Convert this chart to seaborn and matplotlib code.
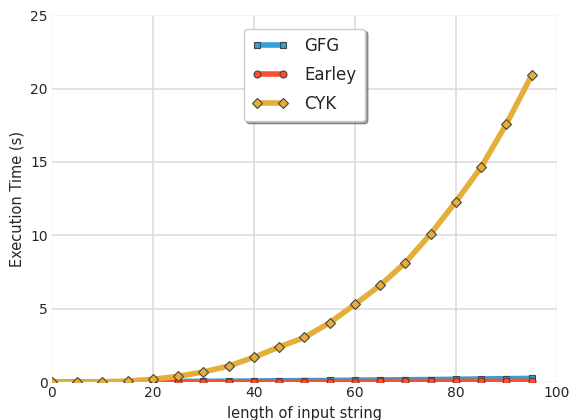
import matplotlib
matplotlib.use("Agg")
import matplotlib.pyplot as plt
import seaborn as sns
import pandas as pd

lengths = [0, 5, 10, 15, 20, 25, 30, 35, 40, 45, 50, 55, 60, 65, 70, 75, 80, 85, 90, 95]
gfg = [0.0, 0.01, 0.02, 0.03, 0.04, 0.05, 0.06, 0.07, 0.08, 0.1, 0.11, 0.12, 0.14, 0.15, 0.17, 0.18, 0.2, 0.22, 0.24, 0.26]
earley = [0.0, 0.0, 0.01, 0.01, 0.02, 0.02, 0.02, 0.03, 0.03, 0.03, 0.04, 0.04, 0.04, 0.05, 0.05, 0.05, 0.06, 0.06, 0.06, 0.07]
cyk = [0.0, 0.005, 0.03, 0.08, 0.2, 0.4, 0.7, 1.1, 1.7, 2.4, 3.05, 4.05, 5.3, 6.6, 8.15, 10.1, 12.3, 14.65, 17.6, 20.9]
series = ["GFG", "Earley", "CYK"]
colors = ["#30a2da", "#fc4f30", "#e5ae38"]
markers = ["s", "o", "D"]

df = pd.DataFrame({"length": lengths * 3,
                   "time": gfg + earley + cyk,
                   "algo": ["GFG"] * len(lengths) + ["Earley"] * len(lengths) + ["CYK"] * len(lengths)})

sns.set_style("whitegrid")
plt.rcParams['font.family'] = ['DejaVu Sans']

fig, ax = plt.subplots(figsize=(5.76, 4.2), dpi=100)
fig.subplots_adjust(left=0.09, right=0.967, top=0.964, bottom=0.09)

for name, c, m in zip(series, colors, markers):
    sub = df[df["algo"] == name]
    sns.lineplot(data=sub, x="length", y="time", ax=ax, color=c, lw=4,
                 marker=m, markersize=5, markeredgecolor="#444444",
                 markeredgewidth=0.8, label=name)

ax.set_xlim(0, 100)
ax.set_ylim(0, 25)
ax.set_xticks([0, 20, 40, 60, 80, 100])
ax.set_yticks([0, 5, 10, 15, 20, 25])
ax.set_xlabel("length of input string", fontsize=10.5)
ax.set_ylabel("Execution Time (s)", fontsize=10.5)
ax.tick_params(labelsize=10, length=0, pad=3)
ax.grid(True, color="#dddddd", lw=1.2)
for s in ax.spines.values():
    s.set_visible(False)
for gl in (ax.xaxis.get_gridlines()[0], ax.xaxis.get_gridlines()[-1],
           ax.yaxis.get_gridlines()[0], ax.yaxis.get_gridlines()[-1]):
    gl.set_color("#f4f4f4")

leg = ax.legend(loc="upper center", frameon=True, shadow=True, fontsize=12,
                fancybox=True, borderpad=0.5, labelspacing=0.65, handlelength=2.15,
                handletextpad=1.0, numpoints=2, bbox_to_anchor=(0.5, 0.986))
leg.get_frame().set_edgecolor("#cccccc")
leg.get_frame().set_facecolor("white")
leg.get_frame().set_alpha(1)

fig.savefig("out.png", dpi=100)
